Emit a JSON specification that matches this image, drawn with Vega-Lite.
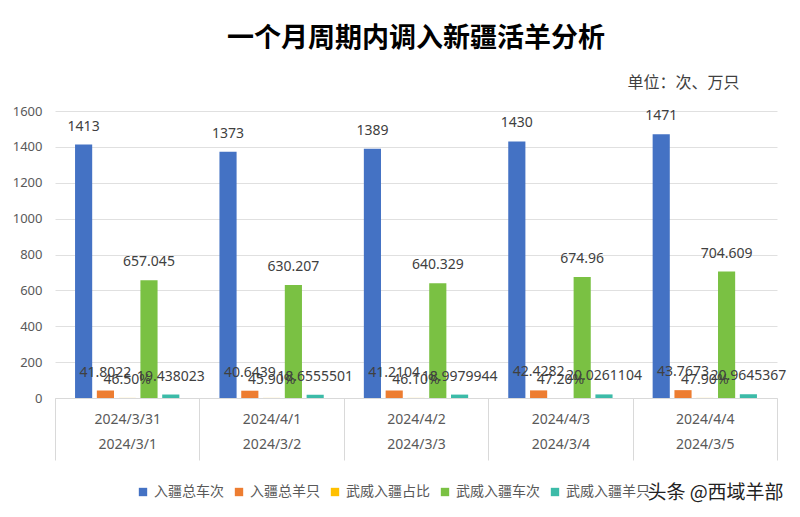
{
  "$schema": "https://vega.github.io/schema/vega-lite/v6.json",
  "width": 722,
  "height": 287,
  "autosize": {"type": "none"},
  "padding": {"left": 55, "top": 111, "right": 23, "bottom": 119},
  "background": "white",
  "title": {
    "text": "一个月周期内调入新疆活羊分析",
    "anchor": "middle",
    "font": "Noto Sans CJK SC",
    "fontSize": 27,
    "fontWeight": "bold",
    "color": "#000000",
    "offset": 21
  },
  "config": {
    "view": {"stroke": null},
    "font": "Noto Sans"
  },
  "data": {
    "values": [
      {"d": "2024/3/31|2024/3/1", "series": "入疆总车次", "v": 1413, "label": "1413"},
      {"d": "2024/3/31|2024/3/1", "series": "入疆总羊只", "v": 41.8022, "label": "41.8022"},
      {"d": "2024/3/31|2024/3/1", "series": "武威入疆占比", "v": 0.465, "label": "46.50%"},
      {"d": "2024/3/31|2024/3/1", "series": "武威入疆车次", "v": 657.045, "label": "657.045"},
      {"d": "2024/3/31|2024/3/1", "series": "武威入疆羊只", "v": 19.438023, "label": "19.438023"},
      {"d": "2024/4/1|2024/3/2", "series": "入疆总车次", "v": 1373, "label": "1373"},
      {"d": "2024/4/1|2024/3/2", "series": "入疆总羊只", "v": 40.6439, "label": "40.6439"},
      {"d": "2024/4/1|2024/3/2", "series": "武威入疆占比", "v": 0.459, "label": "45.90%"},
      {"d": "2024/4/1|2024/3/2", "series": "武威入疆车次", "v": 630.207, "label": "630.207"},
      {"d": "2024/4/1|2024/3/2", "series": "武威入疆羊只", "v": 18.6555501, "label": "18.6555501"},
      {"d": "2024/4/2|2024/3/3", "series": "入疆总车次", "v": 1389, "label": "1389"},
      {"d": "2024/4/2|2024/3/3", "series": "入疆总羊只", "v": 41.2104, "label": "41.2104"},
      {"d": "2024/4/2|2024/3/3", "series": "武威入疆占比", "v": 0.461, "label": "46.10%"},
      {"d": "2024/4/2|2024/3/3", "series": "武威入疆车次", "v": 640.329, "label": "640.329"},
      {"d": "2024/4/2|2024/3/3", "series": "武威入疆羊只", "v": 18.9979944, "label": "18.9979944"},
      {"d": "2024/4/3|2024/3/4", "series": "入疆总车次", "v": 1430, "label": "1430"},
      {"d": "2024/4/3|2024/3/4", "series": "入疆总羊只", "v": 42.4282, "label": "42.4282"},
      {"d": "2024/4/3|2024/3/4", "series": "武威入疆占比", "v": 0.472, "label": "47.20%"},
      {"d": "2024/4/3|2024/3/4", "series": "武威入疆车次", "v": 674.96, "label": "674.96"},
      {"d": "2024/4/3|2024/3/4", "series": "武威入疆羊只", "v": 20.0261104, "label": "20.0261104"},
      {"d": "2024/4/4|2024/3/5", "series": "入疆总车次", "v": 1471, "label": "1471"},
      {"d": "2024/4/4|2024/3/5", "series": "入疆总羊只", "v": 43.7673, "label": "43.7673"},
      {"d": "2024/4/4|2024/3/5", "series": "武威入疆占比", "v": 0.479, "label": "47.90%"},
      {"d": "2024/4/4|2024/3/5", "series": "武威入疆车次", "v": 704.609, "label": "704.609"},
      {"d": "2024/4/4|2024/3/5", "series": "武威入疆羊只", "v": 20.9645367, "label": "20.9645367"}
    ]
  },
  "encoding": {
    "x": {
      "field": "d",
      "type": "nominal",
      "sort": null,
      "scale": {"paddingInner": 0, "paddingOuter": 0},
      "axis": {
        "title": "头条 @西域羊部",
        "titleX": 660,
        "titleY": 94,
        "titleAlign": "center",
        "titleBaseline": "middle",
        "titleFont": "Noto Sans CJK SC",
        "titleFontSize": 19,
        "titleFontWeight": "normal",
        "titleColor": "#222222",
        "labelExpr": "datum.value ? split(datum.value, '|') : ''",
        "labelAngle": 0,
        "labelFont": "Noto Sans",
        "labelFontSize": 14,
        "labelColor": "#595959",
        "labelLineHeight": 25,
        "labelPadding": -48,
        "ticks": true,
        "tickBand": "extent",
        "tickSize": 62,
        "tickColor": "#d9d9d9",
        "domainColor": "#d9d9d9",
        "grid": false
      }
    },
    "xOffset": {
      "field": "series",
      "type": "nominal",
      "scale": {
        "domain": ["入疆总车次", "入疆总羊只", "武威入疆占比", "武威入疆车次", "武威入疆羊只"],
        "paddingInner": 0.213,
        "paddingOuter": 0.92
      }
    },
    "y": {
      "field": "v",
      "type": "quantitative",
      "scale": {"domain": [0, 1600]},
      "axis": {
        "values": [0, 200, 400, 600, 800, 1000, 1200, 1400, 1600],
        "format": "d",
        "title": "单位：次、万只",
        "titleAngle": 0,
        "titleX": 572,
        "titleY": -29,
        "titleAlign": "left",
        "titleBaseline": "middle",
        "titleFont": "Noto Sans CJK SC",
        "titleFontSize": 16,
        "titleFontWeight": "normal",
        "titleColor": "#404040",
        "labelFontSize": 13,
        "labelColor": "#595959",
        "labelPadding": 13,
        "ticks": false,
        "domain": false,
        "gridColor": "#e0e0e0"
      }
    },
    "color": {
      "field": "series",
      "type": "nominal",
      "scale": {
        "domain": ["入疆总车次", "入疆总羊只", "武威入疆占比", "武威入疆车次", "武威入疆羊只"],
        "range": ["#4472C4", "#ED7D31", "#FFC000", "#7AC143", "#3CBBA8"]
      },
      "legend": {
        "orient": "none",
        "legendX": 81,
        "legendY": 374,
        "direction": "horizontal",
        "title": null,
        "labelFont": "Noto Sans CJK SC",
        "labelFontSize": 14,
        "labelColor": "#595959",
        "symbolType": "square",
        "symbolSize": 70,
        "symbolStrokeWidth": 0,
        "columnPadding": 8,
        "labelOffset": 4
      }
    }
  },
  "layer": [
    {"mark": {"type": "bar"}},
    {
      "mark": {"type": "text", "baseline": "middle", "dy": -18, "fontSize": 14, "color": "#404040", "font": "Noto Sans"},
      "encoding": {"text": {"field": "label"}, "color": {"value": "#404040"}}
    }
  ]
}
